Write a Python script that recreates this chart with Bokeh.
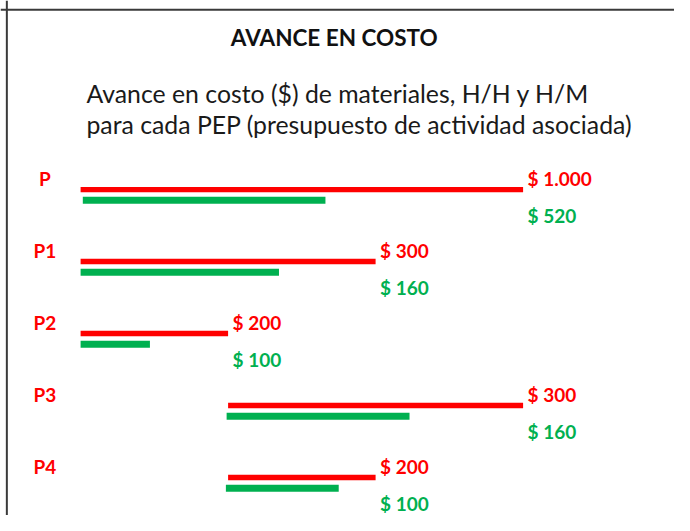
from bokeh.plotting import figure
from bokeh.models import ColumnDataSource, Range1d, Span
from bokeh.core.properties import value
from bokeh.embed import file_html
from bokeh.resources import INLINE
import numpy as np

# ---- data ----
title_text = "AVANCE EN COSTO"
subtitle_lines = ["Avance en costo ($) de materiales, H/H y H/M",
                  "para cada PEP (presupuesto de actividad asociada)"]
categories = ["P", "P1", "P2", "P3", "P4"]
budget_labels = ["$ 1.000", "$ 300", "$ 200", "$ 300", "$ 200"]
progress_labels = ["$ 520", "$ 160", "$ 100", "$ 160", "$ 100"]
# time span of each PEP (periods) and progress reached
start = [0.0, 0.0, 0.0, 2.0, 2.0]
budget_end = [6.0, 4.0, 2.0, 6.0, 4.0]
progress_start = [0.03, 0.0, 0.0, 1.98, 1.97]
progress_end = [3.32, 2.69, 0.94, 4.46, 3.5]

# ---- layout (reference frame 690x531, drawn into 674x515) ----
W, H = 674, 515
RW, RH = 690.0, 531.0
SX, SY = W / RW, H / RH
UX = 75.5          # ref px per period
X0 = 82.0          # ref x of period 0
ROW = 74.2         # ref px per row
Y0 = 195.0         # ref y of first row centre
x_lo, x_hi = -X0 / UX, (RW - X0) / UX
y_top, y_bot = -Y0 / ROW, (RH - Y0) / ROW

def px(rx):
    return (rx - X0) / UX

def py(ry):
    return (ry - Y0) / ROW

RED = "#FF0000"
GREEN = "#00B050"
FONT = "Lato"
LBL = "19px"

p = figure(width=W, height=H, output_backend="svg", toolbar_location=None,
           x_range=Range1d(x_lo, x_hi), y_range=Range1d(y_bot, y_top),
           min_border=0, min_border_left=0, min_border_right=0,
           min_border_top=0, min_border_bottom=0)
p.axis.visible = False
p.grid.visible = False
p.outline_line_color = None
p.background_fill_color = "white"
p.border_fill_color = "white"

rows = np.arange(len(categories))
src = ColumnDataSource(dict(
    y=rows, yg=rows + 11.0 / ROW,
    start=start, bend=budget_end, pstart=progress_start, pend=progress_end,
    cat=categories, bl=budget_labels, pl=progress_labels,
    catx=[px(45.5)] * len(categories),
))

p.hbar(y="y", left="start", right="bend", height=5.6 / ROW, source=src,
       fill_color=RED, line_color=None)
p.hbar(y="yg", left="pstart", right="pend", height=7.2 / ROW, source=src,
       fill_color=GREEN, line_color=None)

p.text(x="bend", y="y", text="bl", source=src, x_offset=4.5, y_offset=-11 * SY,
       text_color=RED, text_font=value(FONT), text_font_style="bold",
       text_font_size=LBL, text_align="left", text_baseline="alphabetic")
p.text(x="bend", y="y", text="pl", source=src, x_offset=4.5, y_offset=26.5 * SY,
       text_color=GREEN, text_font=value(FONT), text_font_style="bold",
       text_font_size=LBL, text_align="left", text_baseline="alphabetic")
p.text(x="catx", y="y", text="cat", source=src, y_offset=-11 * SY,
       text_color=RED, text_font=value(FONT), text_font_style="bold",
       text_font_size=LBL, text_align="center", text_baseline="alphabetic")

# title and subtitle
p.text(x=[px(341.7)], y=[py(37.7)], text=[title_text], text_color="#111111",
       text_font=value(FONT), text_font_style="bold", text_font_size="22.5px",
       text_align="center", text_baseline="alphabetic")
p.text(x=[px(88), px(88)], y=[py(95.7), py(128.3)], text=subtitle_lines,
       text_color="#1a1a1a", text_font=value(FONT), text_font_size="24.8px",
       text_align="left", text_baseline="alphabetic")

# frame lines (top and left)
p.add_layout(Span(location=py(9.5), dimension="width", line_color="#3a3a3a", line_width=2))
p.add_layout(Span(location=px(6.5), dimension="height", line_color="#3a3a3a", line_width=2))

open("out.html", "w").write(file_html(p, INLINE))
